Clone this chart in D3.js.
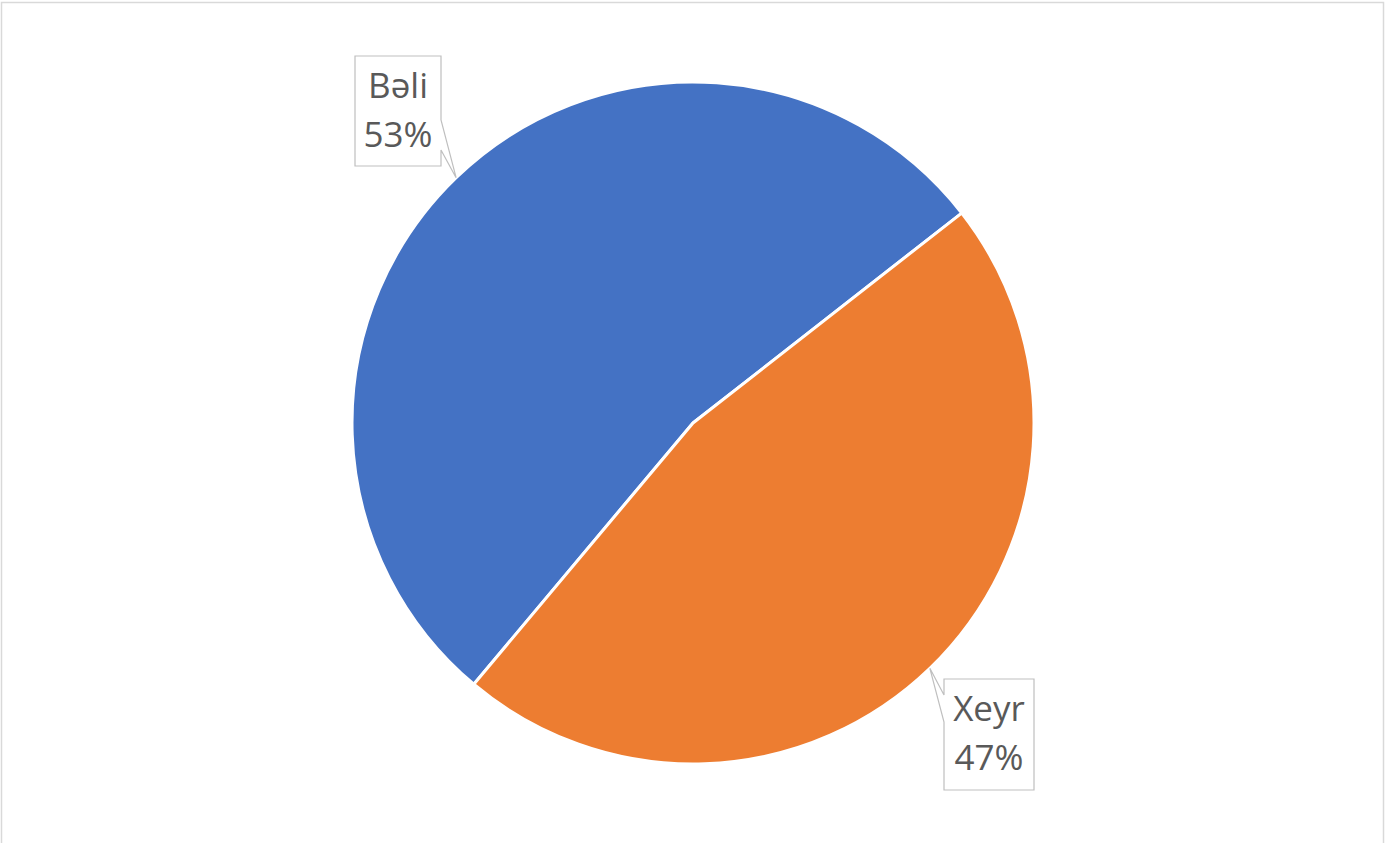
<!DOCTYPE html>
<html>
<head>
<meta charset="utf-8">
<script src="https://cdn.jsdelivr.net/npm/d3@7"></script>
<style>
  html, body { margin: 0; padding: 0; background: #fff; }
  svg { display: block; }
</style>
</head>
<body>
<svg id="chart" width="1385" height="843"></svg>
<script>
// ---- data ----
const categories = ["Bəli", "Xeyr"];
const values = [8, 7];
const percentLabels = ["53%", "47%"];
const colors = ["#4472C4", "#ED7D31"];

// ---- layout ----
const W = 1385, H = 843;
const cx = 693, cy = 423, R = 341;
const deg = Math.PI / 180;
const startDeg = 220;

const svg = d3.select("#chart");

// outer chart border
svg.append("rect")
  .attr("x", 1.5).attr("y", 2.5)
  .attr("width", 1382).attr("height", 860)
  .attr("fill", "#fff")
  .attr("stroke", "#d9d9d9").attr("stroke-width", 1.5);

const data = categories.map((c, i) => ({ cat: c, value: values[i], pct: percentLabels[i], color: colors[i] }));

const pie = d3.pie().sort(null).value(d => d.value)
  .startAngle(startDeg * deg).endAngle((startDeg + 360) * deg);
const arcs = pie(data);
const arc = d3.arc().innerRadius(0).outerRadius(R);

const g = svg.append("g").attr("transform", `translate(${cx},${cy})`);
g.selectAll("path.slice").data(arcs).enter().append("path")
  .attr("class", "slice")
  .attr("d", arc)
  .attr("fill", d => d.data.color)
  .attr("stroke", "#fff").attr("stroke-width", 3)
  .attr("stroke-linejoin", "round");

// callout labels
const boxes = [
  { x: 355, y: 56, w: 86, h: 110, side: "right", b1: 64, b2: 94 },
  { x: 944, y: 679, w: 90, h: 111, side: "left", b1: 16, b2: 43 }
];

arcs.forEach((a, i) => {
  const mid = (a.startAngle + a.endAngle) / 2;
  const tx = cx + R * Math.sin(mid);
  const ty = cy - R * Math.cos(mid);
  const b = boxes[i];
  let pts;
  if (b.side === "right") {
    pts = [[b.x, b.y], [b.x + b.w, b.y], [b.x + b.w, b.y + b.b1], [tx, ty],
           [b.x + b.w, b.y + b.b2], [b.x + b.w, b.y + b.h], [b.x, b.y + b.h]];
  } else {
    pts = [[b.x, b.y], [b.x + b.w, b.y], [b.x + b.w, b.y + b.h], [b.x, b.y + b.h],
           [b.x, b.y + b.b2], [tx, ty], [b.x, b.y + b.b1]];
  }
  svg.append("path")
    .attr("d", d3.line()(pts) + "Z")
    .attr("fill", "#fff")
    .attr("stroke", "#bfbfbf").attr("stroke-width", 1.2);
  const ccx = b.x + b.w / 2;
  const t = svg.append("text")
    .attr("text-anchor", "middle")
    .attr("font-family", "'Segoe UI', 'Open Sans', 'Noto Sans', sans-serif")
    .attr("font-size", 35)
    .attr("fill", "#595959");
  t.append("tspan").attr("x", ccx).attr("y", b.y + 42).text(a.data.cat);
  t.append("tspan").attr("x", ccx).attr("y", b.y + 91).text(a.data.pct);
});
</script>
</body>
</html>
